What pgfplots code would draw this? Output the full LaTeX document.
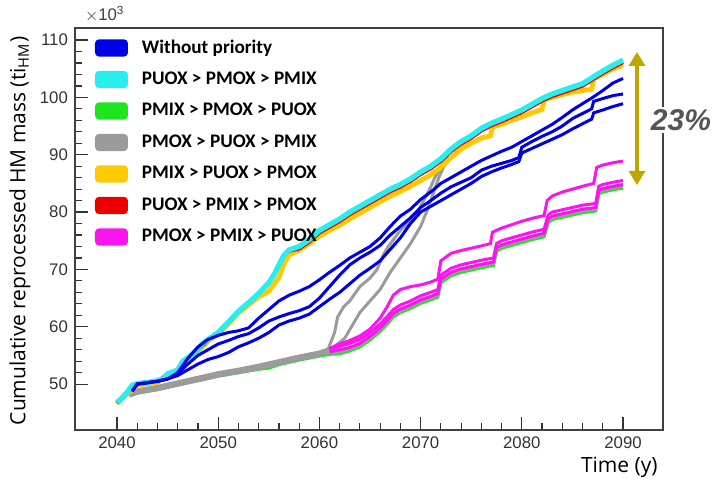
\documentclass[border=0pt]{standalone}
\usepackage{fontspec}
\setmainfont{Liberation Sans}
\newfontfamily\labelfont{Open Sans}
\newfontfamily\legfont{Carlito}
\usepackage{pgfplots}
\pgfplotsset{compat=1.18}
\usetikzlibrary{arrows.meta}
\definecolor{cBlue}{RGB}{0,0,230}
\definecolor{cCyan}{RGB}{40,238,240}
\definecolor{cGreen}{RGB}{30,230,30}
\definecolor{cGray}{RGB}{155,155,155}
\definecolor{cOrange}{RGB}{255,200,0}
\definecolor{cRed}{RGB}{235,0,0}
\definecolor{cMag}{RGB}{250,20,240}
\definecolor{cArrow}{RGB}{190,165,0}
\definecolor{cTxt}{RGB}{85,85,85}
\begin{document}
\begin{tikzpicture}
\begin{axis}[
  scale only axis, width=294pt, height=201pt,
  xmin=2035.85, xmax=2093.95, ymin=42, ymax=112.1,
  xtick={2040,2050,2060,2070,2080,2090},
  ytick={50,60,70,80,90,100,110},
  minor x tick num=4, minor y tick num=4,
  tick align=inside, xtick pos=bottom, ytick pos=left,
  major tick length=6.5pt, minor tick length=3.3pt,
  tick style={black!80, line width=0.6pt},
  axis line style={black!75, line width=0.7pt},
  ticklabel style={font=\fontsize{8.4}{9}\selectfont, text=black!80},
  /pgf/number format/assume math mode=true,
  /pgf/number format/1000 sep={},
  every axis y label/.style={at={(axis description cs:-0.0935,0.495)}, rotate=90, anchor=center},
  every axis x label/.style={at={(axis description cs:1.003,-0.092)}, anchor=east},
  ylabel={\labelfont\fontsize{10.5}{12}\selectfont Cumulative reprocessed HM mass (ti\textsubscript{HM})},
  xlabel={\labelfont\fontsize{10.5}{12}\selectfont Time (y)},
  legend style={at={(axis description cs:0.034,0.9895)}, anchor=north west, draw=none, fill=none,
    inner sep=0pt, outer sep=0pt, row sep=0pt,
    font=\legfont\bfseries\fontsize{9.6}{11}\selectfont,
    nodes={inner sep=0pt, minimum height=15.75pt}},
  legend cell align=left,
  legend image code/.code={\path[draw=none,fill=none] (0pt,-7.875pt) rectangle (23.5pt,7.875pt);
    \path[draw=none,fill,#1,rounded corners=2pt] (0pt,-4.3pt) rectangle (16.5pt,4.3pt);},
]
\addlegendimage{cBlue}\addlegendentry{Without priority}
\addlegendimage{cCyan}\addlegendentry{PUOX > PMOX > PMIX}
\addlegendimage{cGreen}\addlegendentry{PMIX > PMOX > PUOX}
\addlegendimage{cGray}\addlegendentry{PMOX > PUOX > PMIX}
\addlegendimage{cOrange}\addlegendentry{PMIX > PUOX > PMOX}
\addlegendimage{cRed}\addlegendentry{PUOX > PMIX > PMOX}
\addlegendimage{cMag}\addlegendentry{PMOX > PMIX > PUOX}

% green
\addplot[forget plot, cGreen, line width=1.6pt] coordinates {(2041.2,48)(2042,48.5)(2044,49.1)(2046,49.9)(2048,50.6)(2050,51.4)(2052,52)(2054,52.6)(2055,52.8)(2056,53.4)(2058,54.2)(2060,54.9)(2061,55.2)(2062,55.3)(2063,55.8)(2064,56.5)(2065,57.7)(2066,59.2)(2066.7,60.5)(2067.3,61.7)(2068,62.5)(2069,63.2)(2070,64.1)(2071,64.7)(2071.7,65.2)(2072,67.7)(2073,68.9)(2074,69.5)(2075,69.9)(2076,70.3)(2077.2,70.7)(2077.5,73.2)(2078,73.7)(2079,74.2)(2080,74.7)(2081,75.2)(2082.2,75.7)(2082.6,78.2)(2083,78.7)(2084,79.1)(2085,79.5)(2086,79.9)(2087.3,80.2)(2087.6,83.2)(2088,83.5)(2089,83.9)(2090,84.2)};
% gray low band
\addplot[forget plot, cGray, line width=3.2pt] coordinates {(2041.2,48.2)(2042,48.7)(2044,49.3)(2046,50.1)(2048,50.9)(2050,51.7)(2052,52.3)(2054,53)(2056,53.8)(2058,54.6)(2060,55.3)(2061,55.9)};
% gray along magenta
\addplot[forget plot, cGray, line width=1.5pt] coordinates {(2061,55.4)(2062,55.6)(2063,56.1)(2064,56.8)(2065,58)(2066,59.5)(2066.7,60.8)(2067.3,62)(2068,62.8)(2069,63.5)(2070,64.4)(2071,65)(2071.7,65.5)(2072,68)(2073,69.2)(2074,69.8)(2075,70.2)(2076,70.6)(2077.2,71)(2077.5,73.5)(2078,74)(2079,74.5)(2080,75)(2081,75.5)(2082.2,76)(2082.6,78.5)(2083,79)(2084,79.4)(2085,79.8)(2086,80.2)(2087.3,80.5)(2087.6,83.5)(2088,83.8)(2089,84.2)(2090,84.5)};
% gray rising tracks
\addplot[forget plot, cGray, line width=1.5pt] coordinates {(2060.8,55.8)(2061.5,59)(2061.8,61.7)(2062.4,63.5)(2063,64.5)(2064,67)(2065,68.5)(2065.7,70)(2066.3,72.5)(2066.8,74)(2068,76.8)(2069,78.5)(2069.6,79.7)(2070.3,82)(2070.9,84)(2071.4,86)(2071.9,87.5)(2072.3,89)(2072.7,90.3)(2073,90.8)};
\addplot[forget plot, cGray, line width=1.5pt] coordinates {(2061,55.9)(2061.8,57)(2062.5,58)(2063,59.5)(2063.5,61)(2064,62.5)(2065,64.5)(2066,66.5)(2067,69.5)(2068,72)(2069,74.5)(2070,77.5)(2070.7,80.5)(2071.3,83.5)(2071.8,86)(2072.3,88)(2072.8,89.8)};
% magenta
\addplot[forget plot, cMag, line width=1.5pt] coordinates {(2061,55.6)(2062,56)(2063,56.4)(2064,57.1)(2065,58.3)(2066,59.8)(2066.7,61.1)(2067.3,62.3)(2068,63.1)(2069,63.8)(2070,64.7)(2071,65.3)(2071.7,65.8)(2072,68.3)(2073,69.5)(2074,70.1)(2075,70.5)(2076,70.9)(2077.2,71.3)(2077.5,73.8)(2078,74.3)(2079,74.8)(2080,75.3)(2081,75.8)(2082.2,76.3)(2082.6,78.8)(2083,79.3)(2084,79.7)(2085,80.1)(2086,80.5)(2087.3,80.8)(2087.6,83.8)(2088,84.1)(2089,84.5)(2090,84.8)};
\addplot[forget plot, cMag, line width=1.5pt] coordinates {(2061,56)(2062,56.6)(2063,57.1)(2064,57.8)(2065,59)(2066,60.5)(2066.7,61.8)(2067.3,63)(2068,63.8)(2069,64.5)(2070,65.4)(2071,66)(2071.7,66.5)(2072,69)(2073,70.2)(2074,70.8)(2075,71.2)(2076,71.6)(2077.2,72)(2077.5,74.5)(2078,75)(2079,75.5)(2080,76)(2081,76.5)(2082.2,77)(2082.6,79.5)(2083,80)(2084,80.4)(2085,80.8)(2086,81.2)(2087.3,81.5)(2087.6,84.5)(2088,84.8)(2089,85.2)(2090,85.5)};
\addplot[forget plot, cMag, line width=1.5pt] coordinates {(2061,56.2)(2062,57)(2063,57.6)(2064,58.4)(2065,59.6)(2066,61.5)(2066.7,63.5)(2067.3,65.5)(2068,66.5)(2069,67)(2070,67.3)(2071,67.8)(2071.7,68.3)(2072,71.5)(2073,72.8)(2074,73.3)(2075,73.7)(2076,74.1)(2076.9,74.5)(2077.1,76.5)(2078,77.2)(2079,77.8)(2080,78.4)(2081,78.9)(2082.2,79.4)(2082.5,82)(2083,82.8)(2084,83.5)(2085,84)(2086,84.5)(2087.1,85)(2087.4,87.8)(2088,88.2)(2089,88.6)(2090,88.9)};
% orange
\addplot[forget plot, cOrange, line width=2.4pt] coordinates {(2040,46.6)(2041,48.3)(2042,49.8)(2044,50.3)(2045,51.5)(2046,52.2)(2046.5,53.7)(2048,55.7)(2049,57.5)(2050,58.7)(2051,60.5)(2052,62.4)(2053,63.8)(2054,65.2)(2055,66.2)(2056,68.6)(2056.5,71)(2057,72.5)(2058,73.4)(2059,74.5)(2060,75.8)(2061,76.8)(2062,77.7)(2063,78.8)(2064,79.8)(2065,80.8)(2066,81.8)(2067,82.8)(2068,83.6)(2069,84.5)(2070,85.5)(2071,86.5)(2072,87.8)(2073,89.5)(2074,91)(2075,92)(2076,92.9)(2076.9,93.3)(2077.1,94.8)(2078,95.3)(2079,96)(2080,96.6)(2081,97.3)(2082,97.9)(2082.2,99.6)(2083,100)(2084,100.5)(2085,100.9)(2086,101.2)(2086.9,101.4)(2087.1,103.3)(2088,104)(2089,105)(2090,105.6)};
% red
\addplot[forget plot, cRed, line width=1.8pt] coordinates {(2040,46.7)(2041,48.5)(2042,50)(2044,50.5)(2045,51.7)(2046,52.4)(2046.5,53.9)(2048,55.9)(2049,57.7)(2050,58.9)(2051,60.7)(2052,62.6)(2053,64.1)(2054,65.7)(2055,67.6)(2056,70.7)(2056.5,72.4)(2057,73.2)(2058,73.6)(2059,74.8)(2060,76.4)(2061,77.4)(2062,78.4)(2063,79.6)(2064,80.6)(2065,81.6)(2066,82.6)(2067,83.6)(2068,84.4)(2069,85.4)(2070,86.6)(2071,87.6)(2072,88.9)(2073,90.6)(2074,91.9)(2075,92.9)(2076,94.2)(2077,95.1)(2078,95.8)(2079,96.6)(2080,97.4)(2081,98.4)(2082,99.4)(2083,100.2)(2084,100.8)(2085,101.4)(2086,102)(2087,103.1)(2088,104.2)(2089,105.2)(2090,106.1)};
% cyan
\addplot[forget plot, cCyan, line width=2.6pt] coordinates {(2040,46.8)(2040.5,47.6)(2041,48.6)(2041.5,49.8)(2042,50.1)(2043,50.3)(2044,50.6)(2044.5,50.9)(2045,51.8)(2045.5,52.1)(2046,52.5)(2046.5,54)(2047,54.6)(2048,56)(2048.5,57.2)(2049,57.8)(2050,59)(2051,60.8)(2052,62.7)(2053,64.2)(2054,65.8)(2055,67.7)(2055.5,69)(2056,70.8)(2056.5,72.5)(2057,73.4)(2058,74)(2059,75.2)(2060,76.8)(2061,77.8)(2062,78.8)(2063,80)(2064,81)(2065,82)(2066,83)(2067,84)(2068,84.8)(2069,85.8)(2070,87)(2071,88)(2072,89.3)(2073,91)(2074,92.3)(2075,93.3)(2076,94.6)(2077,95.5)(2078,96.2)(2079,97)(2080,97.8)(2081,98.8)(2082,99.8)(2083,100.6)(2084,101.2)(2085,101.8)(2086,102.4)(2087,103.5)(2088,104.6)(2089,105.6)(2090,106.5)};
% blue
\addplot[forget plot, cBlue, line width=1.5pt] coordinates {(2041.5,48.8)(2042,50)(2044,50.5)(2045,50.9)(2046,51.5)(2047,52.5)(2048,53.5)(2049,54.3)(2050,54.8)(2051,55.5)(2052,56.5)(2053,57.2)(2054,58)(2055,59)(2056,60.3)(2057,61)(2058,61.5)(2059,62.2)(2060,63.5)(2061,64.8)(2062,66)(2063,67.5)(2064,69)(2065,70.2)(2066,71.5)(2067,73.5)(2068,75.5)(2069,78)(2070,80)(2071,81)(2072,82)(2073,83)(2074,84)(2075,85)(2076,86.2)(2077,87)(2078,87.7)(2079,88.3)(2079.7,88.8)(2080,90.3)(2081,91.1)(2082,91.9)(2083,92.7)(2084,93.5)(2085,94.5)(2086,95.4)(2086.9,96.2)(2087.1,97.3)(2088,97.8)(2089,98.4)(2090,98.9)};
\addplot[forget plot, cBlue, line width=1.5pt] coordinates {(2041.5,48.8)(2042,50)(2044,50.5)(2045,50.9)(2046,51.8)(2047,53.5)(2048,55)(2049,56)(2050,57)(2051,57.6)(2052,58.3)(2053,58.8)(2054,59.8)(2055,61)(2056,61.7)(2057,62.3)(2058,62.8)(2059,63.5)(2060,65)(2061,67)(2062,69)(2063,70.8)(2064,72)(2065,73)(2066,74.2)(2067,76)(2068,77.5)(2069,79)(2070,80.8)(2071,82)(2072,83.3)(2073,84.4)(2074,85.2)(2075,86)(2076,87.3)(2077,88)(2078,88.5)(2079,89)(2079.7,89.5)(2080,91.3)(2081,92.3)(2082,93.2)(2083,94)(2084,95)(2085,96.3)(2086,97.2)(2086.9,98)(2087.1,99.3)(2088,99.8)(2089,100.3)(2090,100.6)};
\addplot[forget plot, cBlue, line width=1.5pt] coordinates {(2041.5,48.8)(2042,50)(2044,50.5)(2045,50.9)(2046,52)(2047,54.5)(2048,56.5)(2049,57.8)(2050,58.5)(2051,59)(2052,59.3)(2053,59.8)(2054,61.5)(2055,63)(2056,64.5)(2057,65.5)(2058,66.2)(2059,67)(2060,68.2)(2061,69.5)(2062,70.7)(2063,72)(2064,73)(2065,74)(2066,75.5)(2067,77.5)(2068,79.3)(2069,80.5)(2070,82.2)(2071,83.5)(2072,85)(2073,86)(2074,87)(2075,88)(2076,89)(2077,89.8)(2078,90.6)(2079,91.3)(2080,92.3)(2081,93.3)(2082,94.3)(2083,95.3)(2084,96.5)(2085,97.8)(2086,98.9)(2087,100)(2088,101.2)(2089,102.5)(2090,103.3)};
\end{axis}
\node[anchor=west, text=black!75, font=\fontsize{8.4}{9}\selectfont] at (1.5pt,208pt) {$\times$10\textsuperscript{3}};
\draw[cArrow, line width=1.6pt, {Triangle[width=8pt,length=7pt]}-{Triangle[width=8pt,length=7pt]}] (281pt,189pt) -- (281pt,122.5pt);
\node[fill=white, inner sep=1pt, text=cTxt, font=\bfseries\itshape\fontsize{15}{17}\selectfont] at (303pt,155pt) {23\%};
\pgfresetboundingbox
\path[use as bounding box] (-37.5pt,-25pt) rectangle (321pt,215pt);
\end{tikzpicture}
\end{document}
